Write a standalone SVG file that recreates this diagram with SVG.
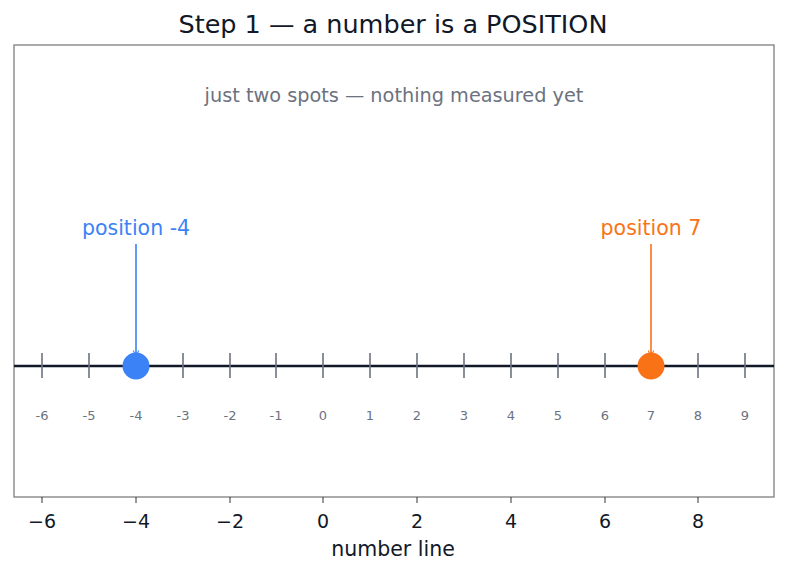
<svg xmlns="http://www.w3.org/2000/svg" width="787" height="573" viewBox="0 0 787 573">
<style>
text{font-family:"DejaVu Sans","Liberation Sans",sans-serif}
.tk{stroke:#6b7280;stroke-width:1.6}
.tl{font-size:13px;fill:#6b7280;text-anchor:middle}
.ax{font-size:19px;fill:#111827;text-anchor:middle}
.at{stroke:#333;stroke-width:1}
</style>
<defs>
<marker id="ab" viewBox="0 0 10 10" refX="9" refY="5" markerWidth="7" markerHeight="7" orient="auto" markerUnits="userSpaceOnUse"><path d="M1,1 L9,5 L1,9" fill="none" stroke="#3b82f6" stroke-width="1.5"/></marker>
<marker id="ao" viewBox="0 0 10 10" refX="9" refY="5" markerWidth="7" markerHeight="7" orient="auto" markerUnits="userSpaceOnUse"><path d="M1,1 L9,5 L1,9" fill="none" stroke="#f97316" stroke-width="1.5"/></marker>
</defs>
<rect width="787" height="573" fill="#fff"/>
<text x="393" y="33" font-size="25.5" fill="#111827" text-anchor="middle">Step 1 — a number is a POSITION</text>
<g id="frame">
<rect x="14" y="45" width="760" height="452" fill="none" stroke="#7f7f7f" stroke-width="1.3"/>
</g>
<text x="394" y="102" font-size="19.3" fill="#6b7280" text-anchor="middle">just two spots — nothing measured yet</text>
<g id="numberline">
<line x1="14" y1="366" x2="774" y2="366" stroke="#111827" stroke-width="2.5"/>
<g>
<line class="tk" x1="42" y1="353" x2="42" y2="378"/>
<line class="tk" x1="89" y1="353" x2="89" y2="378"/>
<line class="tk" x1="136" y1="353" x2="136" y2="378"/>
<line class="tk" x1="183" y1="353" x2="183" y2="378"/>
<line class="tk" x1="230" y1="353" x2="230" y2="378"/>
<line class="tk" x1="276" y1="353" x2="276" y2="378"/>
<line class="tk" x1="323" y1="353" x2="323" y2="378"/>
<line class="tk" x1="370" y1="353" x2="370" y2="378"/>
<line class="tk" x1="417" y1="353" x2="417" y2="378"/>
<line class="tk" x1="464" y1="353" x2="464" y2="378"/>
<line class="tk" x1="511" y1="353" x2="511" y2="378"/>
<line class="tk" x1="558" y1="353" x2="558" y2="378"/>
<line class="tk" x1="605" y1="353" x2="605" y2="378"/>
<line class="tk" x1="651" y1="353" x2="651" y2="378"/>
<line class="tk" x1="698" y1="353" x2="698" y2="378"/>
<line class="tk" x1="745" y1="353" x2="745" y2="378"/>
</g>
<g>
<text class="tl" x="42" y="420">-6</text>
<text class="tl" x="89" y="420">-5</text>
<text class="tl" x="136" y="420">-4</text>
<text class="tl" x="183" y="420">-3</text>
<text class="tl" x="230" y="420">-2</text>
<text class="tl" x="276" y="420">-1</text>
<text class="tl" x="323" y="420">0</text>
<text class="tl" x="370" y="420">1</text>
<text class="tl" x="417" y="420">2</text>
<text class="tl" x="464" y="420">3</text>
<text class="tl" x="511" y="420">4</text>
<text class="tl" x="558" y="420">5</text>
<text class="tl" x="605" y="420">6</text>
<text class="tl" x="651" y="420">7</text>
<text class="tl" x="698" y="420">8</text>
<text class="tl" x="745" y="420">9</text>
</g>
</g>
<g id="connectors">
<line x1="136" y1="244" x2="136" y2="356" stroke="#3b82f6" stroke-width="1.6" marker-end="url(#ab)"/>
<line x1="651" y1="244" x2="651" y2="356" stroke="#f97316" stroke-width="1.6" marker-end="url(#ao)"/>
</g>
<g id="point-neg4">
<circle cx="136" cy="366" r="13.5" fill="#3b82f6"/>
<text x="136" y="235" font-size="20.5" fill="#3b82f6" text-anchor="middle">position -4</text>
</g>
<g id="point-7">
<circle cx="651" cy="366" r="13.5" fill="#f97316"/>
<text x="651" y="235" font-size="20.5" fill="#f97316" text-anchor="middle">position 7</text>
</g>
<g id="xaxis">
<line class="at" x1="42" y1="497" x2="42" y2="503"/>
<line class="at" x1="136" y1="497" x2="136" y2="503"/>
<line class="at" x1="230" y1="497" x2="230" y2="503"/>
<line class="at" x1="323" y1="497" x2="323" y2="503"/>
<line class="at" x1="417" y1="497" x2="417" y2="503"/>
<line class="at" x1="511" y1="497" x2="511" y2="503"/>
<line class="at" x1="605" y1="497" x2="605" y2="503"/>
<line class="at" x1="698" y1="497" x2="698" y2="503"/>
<text class="ax" x="42" y="528">−6</text>
<text class="ax" x="136" y="528">−4</text>
<text class="ax" x="230" y="528">−2</text>
<text class="ax" x="323" y="528">0</text>
<text class="ax" x="417" y="528">2</text>
<text class="ax" x="511" y="528">4</text>
<text class="ax" x="605" y="528">6</text>
<text class="ax" x="698" y="528">8</text>
<text x="393" y="556" font-size="20.5" fill="#111827" text-anchor="middle">number line</text>
</g>
</svg>
